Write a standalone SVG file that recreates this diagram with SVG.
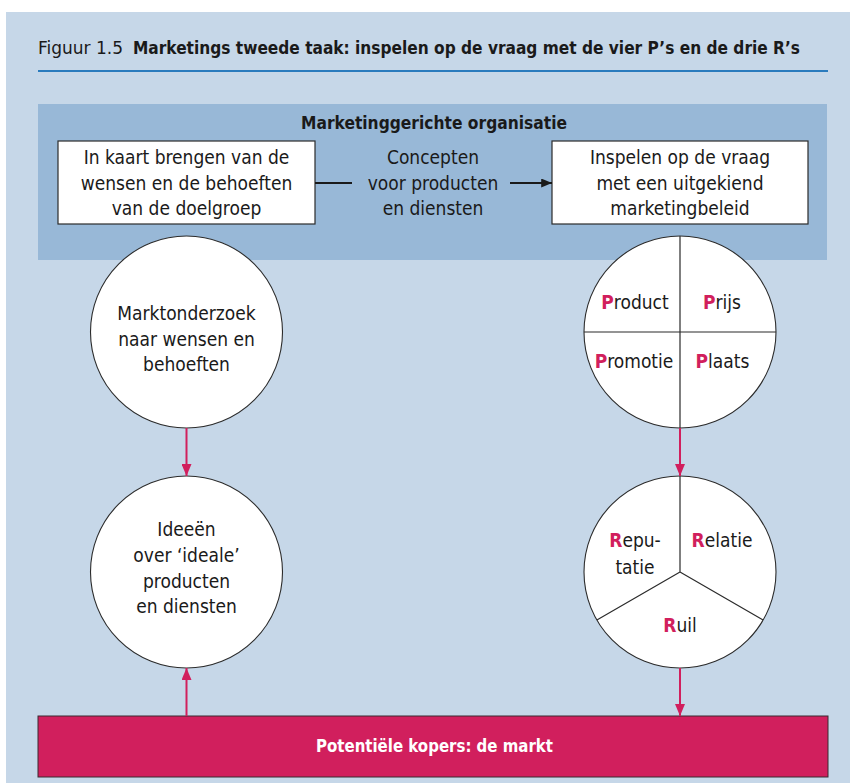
<svg xmlns="http://www.w3.org/2000/svg" width="850" height="783" viewBox="0 0 850 783">
  <style>
    .body { font-family: "DejaVu Sans Condensed", "DejaVu Sans", sans-serif; font-stretch: condensed; font-size: 19px; fill: #1a1a1a; }
    .mid { text-anchor: middle; }
    .narrow { font-family: "Liberation Sans Narrow", "DejaVu Sans Condensed", sans-serif; font-stretch: condensed; }
    .bold { font-weight: bold; }
    .key { font-weight: bold; fill: #d11f5d; }
    .box { fill: #ffffff; stroke: #2b2b2b; stroke-width: 1.2; }
    .disc { fill: #ffffff; stroke: #2b2b2b; stroke-width: 1.1; }
    .divider { stroke: #2b2b2b; stroke-width: 1.2; fill: none; }
    .pink { stroke: #d11f5d; stroke-width: 2; fill: none; }
    .dark { stroke: #1a1a1a; stroke-width: 2; fill: none; }
  </style>
  <defs>
    <marker id="headPink" viewBox="0 0 12 10" refX="12" refY="5" markerWidth="12" markerHeight="10" markerUnits="userSpaceOnUse" orient="auto">
      <path d="M0,0 L12,5 L0,10 z" fill="#d11f5d"/>
    </marker>
    <marker id="headDark" viewBox="0 0 12 10" refX="12" refY="5" markerWidth="12" markerHeight="9" markerUnits="userSpaceOnUse" orient="auto">
      <path d="M0,0 L12,5 L0,10 z" fill="#1a1a1a"/>
    </marker>
  </defs>

  <!-- page background -->
  <rect x="0" y="0" width="850" height="783" fill="#ffffff"/>
  <rect x="6" y="12" width="844" height="771" fill="#c6d7e8"/>

  <!-- figure caption -->
  <g id="caption">
    <text class="narrow" x="38" y="54" font-size="18" fill="#1a1a1a" textLength="85" lengthAdjust="spacingAndGlyphs">Figuur 1.5</text>
    <text class="narrow bold" x="133" y="54" font-size="17.5" fill="#1a1a1a" textLength="667" lengthAdjust="spacingAndGlyphs">Marketings tweede taak: inspelen op de vraag met de vier P’s en de drie R’s</text>
    <line x1="38" y1="71" x2="828" y2="71" stroke="#2a7bbd" stroke-width="2"/>
  </g>

  <!-- organisation band -->
  <g id="organisatie">
    <rect x="38" y="104" width="789" height="156" fill="#98b8d7"/>
    <text class="narrow bold" x="301" y="129" font-size="18" fill="#1a1a1a" textLength="266" lengthAdjust="spacingAndGlyphs">Marketinggerichte organisatie</text>
  </g>

  <g id="wensen">
    <rect class="box" x="58" y="141" width="257" height="83"/>
    <text class="body mid" x="186.5" y="164">In kaart brengen van de</text>
    <text class="body mid" x="186.5" y="190">wensen en de behoeften</text>
    <text class="body mid" x="186.5" y="215">van de doelgroep</text>
  </g>

  <g id="concepten">
    <text class="body mid" x="433" y="164">Concepten</text>
    <text class="body mid" x="433" y="190">voor producten</text>
    <text class="body mid" x="433" y="215">en diensten</text>
  </g>

  <g id="inspelen">
    <rect class="box" x="552" y="141" width="256" height="83"/>
    <text class="body mid" x="680" y="164">Inspelen op de vraag</text>
    <text class="body mid" x="680" y="190">met een uitgekiend</text>
    <text class="body mid" x="680" y="215">marketingbeleid</text>
  </g>

  <!-- left column -->
  <g id="marktonderzoek">
    <circle class="disc" cx="186.5" cy="332" r="96"/>
    <text class="body mid" x="186.5" y="320">Marktonderzoek</text>
    <text class="body mid" x="186.5" y="346">naar wensen en</text>
    <text class="body mid" x="186.5" y="371">behoeften</text>
  </g>

  <g id="ideeen">
    <circle class="disc" cx="186.5" cy="572" r="96"/>
    <text class="body mid" x="186.5" y="536">Ideeën</text>
    <text class="body mid" x="186.5" y="562">over ‘ideale’</text>
    <text class="body mid" x="186.5" y="588">producten</text>
    <text class="body mid" x="186.5" y="613">en diensten</text>
  </g>

  <!-- right column: the four P's -->
  <g id="vier-p">
    <circle class="disc" cx="680" cy="332" r="96"/>
    <path class="divider" d="M680,236 V428 M584,332 H776"/>
    <text class="body mid" x="635" y="309"><tspan class="key">P</tspan>roduct</text>
    <text class="body mid" x="722" y="309"><tspan class="key">P</tspan>rijs</text>
    <text class="body mid" x="634" y="368"><tspan class="key">P</tspan>romotie</text>
    <text class="body mid" x="722.5" y="368"><tspan class="key">P</tspan>laats</text>
  </g>

  <!-- right column: the three R's -->
  <g id="drie-r">
    <circle class="disc" cx="680" cy="572" r="96"/>
    <path class="divider" d="M680,476 V572 M680,572 L596.9,620 M680,572 L763.1,620"/>
    <text class="body mid" x="635" y="547"><tspan class="key">R</tspan>epu-</text>
    <text class="body mid" x="635" y="574">tatie</text>
    <text class="body mid" x="722" y="547"><tspan class="key">R</tspan>elatie</text>
    <text class="body mid" x="680" y="632"><tspan class="key">R</tspan>uil</text>
  </g>

  <!-- market bar -->
  <g id="markt">
    <rect x="38" y="716" width="790" height="61" fill="#d11f5d" stroke="#3a2a30" stroke-width="1"/>
    <text class="narrow bold" x="316" y="752" font-size="18" fill="#ffffff" textLength="237" lengthAdjust="spacingAndGlyphs">Potentiële kopers: de markt</text>
  </g>

  <!-- connectors -->
  <g id="connectors">
    <line class="dark" x1="315" y1="183" x2="352" y2="183"/>
    <line class="dark" x1="510" y1="183" x2="552" y2="183" marker-end="url(#headDark)"/>
    <line class="pink" x1="186.5" y1="428" x2="186.5" y2="476" marker-end="url(#headPink)"/>
    <line class="pink" x1="186.5" y1="716" x2="186.5" y2="668" marker-end="url(#headPink)"/>
    <line class="pink" x1="680" y1="428" x2="680" y2="476" marker-end="url(#headPink)"/>
    <line class="pink" x1="680" y1="668" x2="680" y2="716" marker-end="url(#headPink)"/>
  </g>
</svg>
